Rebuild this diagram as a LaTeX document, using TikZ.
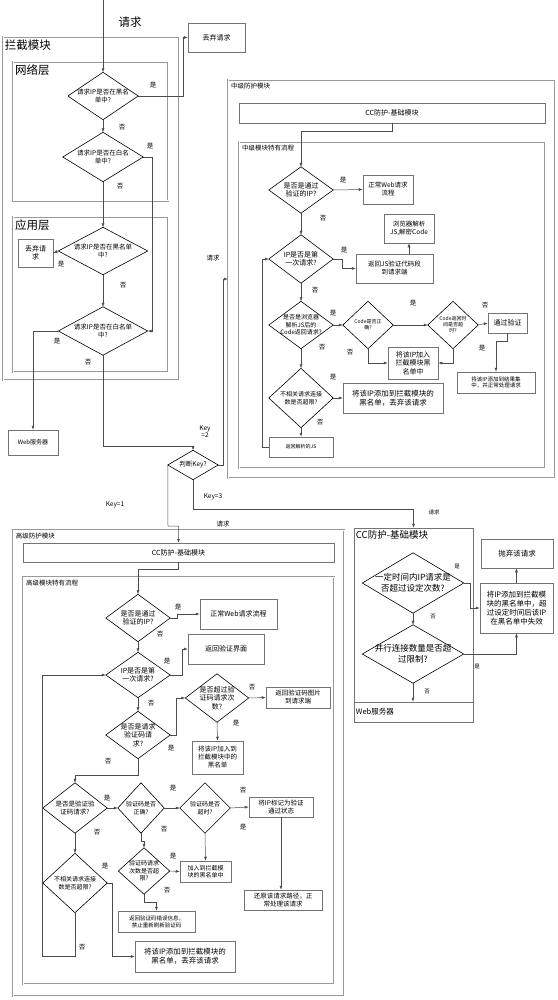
\documentclass[tikz,border=0pt]{standalone}
\usepackage{fontspec}
\setmainfont{Noto Sans CJK SC}
\usetikzlibrary{arrows.meta}
\newcommand\rbox[7]{\node[bx,#6,minimum width={#4-#2},minimum height={#5-#3}] (#1) at ({(#2+#4)/2},{(#3+#5)/2}) {#7};}
\newcommand\dnode[7]{\node[dtx,#6,minimum width=#4,minimum height=#5] (#1) at (#2,#3) {#7};
  \draw[dln] (#1.north)--(#1.east)--(#1.south)--(#1.west)--cycle;}
\tikzset{
  bx/.style={draw=black!55, inner sep=0pt, align=center, line width=0.5pt},
  modb/.style={draw=black!40, double=white, double distance=1pt, inner sep=0pt, line width=0.4pt},
  dtx/.style={inner sep=0pt, align=center},
  dln/.style={draw=black, line width=0.6pt},
  con/.style={draw=black!70, line width=0.5pt, -{Latex[length=4pt,width=3pt]}},
  lab/.style={inner sep=0pt, font=\fontsize{6.5}{7}\selectfont},
  f5/.style={font=\fontsize{5}{6}\selectfont},
  f55/.style={font=\fontsize{5.5}{6.8}\selectfont},
  f6/.style={font=\fontsize{6}{7.5}\selectfont},
  f65/.style={font=\fontsize{6.5}{8}\selectfont},
  f7/.style={font=\fontsize{7}{8.5}\selectfont},
  f75/.style={font=\fontsize{7.5}{9}\selectfont},
  f85/.style={font=\fontsize{8.5}{10.5}\selectfont},
  fbig/.style={font=\fontsize{11.5}{13}\selectfont},
  ttl/.style={anchor=north west, inner sep=0pt},
}
\begin{document}
\begin{tikzpicture}[x=1pt,y=-1pt]
\useasboundingbox (0,0) rectangle (557,1000);
% ================= 拦截模块 =================
\rbox{mod1}{3}{37}{179}{380}{modb}{}
\node[ttl,fbig] (t1) at ([shift={(2pt,-3pt)}]mod1.north west) {拦截模块};
\rbox{net}{13}{62}{168}{201}{modb}{}
\node[ttl,fbig] (t2) at ([shift={(2pt,-3pt)}]net.north west) {网络层};
\rbox{app}{13}{217}{168}{372}{modb}{}
\node[ttl,fbig] (t3) at ([shift={(2pt,-3pt)}]app.north west) {应用层};
\coordinate (top) at (103,0);
\node[fbig] (req) at (130,22) {请求};
\rbox{drop1}{188}{23}{245}{52}{f7}{丢弃请求}
\dnode{d1}{103}{96}{70}{47}{f65}{请求IP是否在黑名\\单中?}
\dnode{d2}{103}{157}{80}{49}{f65}{请求IP是否在白名\\单中?}
\dnode{d3}{103}{251}{89}{47}{f65}{请求IP是否在黑名单\\中?}
\dnode{d4}{103}{331}{89}{48}{f65}{请求IP是否在白名单\\中?}
\rbox{drop2}{18}{239}{53}{267}{f7}{丢弃请\\求}
\rbox{web1}{8}{430}{58}{455}{f6}{Web服务器}
\draw[con] (top) -- (d1.north);
\draw[con] (d1.east) -- (183,96) |- (drop1.west);
\draw[con] (d1.south) -- (d2.north);
\draw[con] (d2.south) -- (d3.north);
\draw[con] (d2.east) -- (152,157) |- (d4.east);
\draw[con] (d3.west) -- (drop2.east);
\draw[con] (d3.south) -- (d4.north);
\draw[con] (d4.west) -| (web1.north);
\node[lab] (l1) at (153,85) {是};
\node[lab] (l2) at (122,127) {否};
\node[lab] (l3) at (150,146) {是};
\node[lab] (l4) at (120,186) {否};
\node[lab] (l5) at (61,264) {是};
\node[lab] (l6) at (123,285) {否};
\node[lab] (l7) at (57,341) {是};
\node[lab] (l8) at (88,362) {否};
% ================= 判断Key =================
\dnode{key}{193}{465}{50}{29}{f65}{判断Key?}
\draw[con] (d4.south) -- (103,446) -| (key.north);
\node[lab,align=center] (k2) at (205,432) {Key\\=2};
\node[lab] (k1) at (115,505) {Key=1};
\node[lab] (k3) at (213,497) {Key=3};
% ================= 中级防护模块 =================
\rbox{midmod}{228}{80}{555}{478}{modb}{}
\node[ttl,f65] (t4) at ([shift={(3pt,-3pt)}]midmod.north west) {中级防护模块};
\rbox{ccM}{239}{103}{545}{123}{f7}{CC防护-基础模块}
\rbox{midflow}{239}{142}{545}{468}{modb}{}
\node[ttl,f65] (t5) at ([shift={(3pt,-3pt)}]midflow.north west) {中级模块特有流程};
\draw[con] (key.east) -- ++(5,0) |- (midmod.west);
\node[lab] (rq1) at (213,258) {请求};
\dnode{M1}{301}{190}{64}{46}{f7}{是否是通过\\验证的IP?}
\dnode{M2}{301}{259}{64}{48}{f7}{IP是否是第\\一次请求?}
\dnode{M3}{301}{325}{64}{47}{f6}{是否是浏览器\\解析JS后的\\Code返回请求?}
\dnode{M4}{368}{325}{50}{47}{f5}{Code是否正\\确?}
\dnode{M5}{453}{325}{50}{47}{f5}{Code返回时\\间是否超\\时?}
\dnode{M6}{301}{398}{64}{59}{f6}{不相关请求连接\\数是否超限?}
\rbox{web2}{363}{175}{413}{204}{f65}{正常Web请求\\流程}
\rbox{js1}{356}{254}{433}{283}{f65}{返回JS验证代码段\\到请求端}
\rbox{js2}{384}{214}{434}{243}{f65}{浏览器解析\\JS,解密Code}
\rbox{pass}{488}{313}{527}{333}{f7}{通过验证}
\rbox{blk1}{388}{347}{438}{379}{f7}{将该IP加入\\拦截模块黑\\名单中}
\rbox{trust}{457}{372}{535}{393}{f55}{将该IP添加到结果集\\中，并正常处理请求}
\rbox{blk2}{343}{383}{443}{413}{f75}{将该IP添加到拦截模块的\\黑名单，丢弃该请求}
\rbox{jsr}{269}{437}{333}{457}{f5}{返回解析的JS}
\draw[con] (ccM.south) -- ++(0,8) -| (M1.north);
\draw[con] (M1.east) -- (web2.west);
\draw[con] (M1.south) -- (M2.north);
\draw[con] (M2.east) -- ++(9,0) |- (js1.west);
\draw[con] (js2.south |- js1.north) -- (js2.south);
\draw[con] (M2.south) -- (M3.north);
\draw[con] (M3.east) -- (M4.west);
\draw[con] (M4.east) -- (M5.west);
\draw[con] (M5.east) -- (pass.west);
\draw[con] (M4.south) |- (blk1.west);
\draw[con] (M5.south) |- (blk1.east);
\draw[con] (pass.south) -- ++(0,8) -| (trust.north);
\draw[con] (M3.south) -- (M6.north);
\draw[con] (M6.east) -- (blk2.west);
\draw[con] (M6.south) -- (jsr.north);
\draw[con] (jsr.west) -- ++(-7,0) |- (M2.west);
\node[lab] (m1) at (343,180) {是};
\node[lab] (m2) at (323,218) {否};
\node[lab] (m3) at (344,250) {是};
\node[lab] (m4) at (315,290) {否};
\node[lab] (m5) at (333,313) {是};
\node[lab] (m6) at (413,303) {是};
\node[lab] (m7) at (485,305) {否};
\node[lab] (m8) at (350,352) {否};
\node[lab] (m9) at (482,348) {是};
\node[lab] (m10) at (322,347) {否};
\node[lab] (m11) at (333,377) {是};
\node[lab] (m12) at (320,422) {否};
% ================= 高级防护模块 =================
\rbox{advmod}{13}{530}{344}{996}{modb}{}
\node[ttl,f65] (t6) at ([shift={(3pt,-3pt)}]advmod.north west) {高级防护模块};
\rbox{ccA}{23}{543}{334}{562}{f7}{CC防护-基础模块}
\rbox{advflow}{23}{577}{334}{984}{modb}{}
\node[ttl,f65] (t7) at ([shift={(3pt,-3pt)}]advflow.north west) {高级模块特有流程};
\draw[con] (key.west) -- (168,526) -| (ccA.north);
\node[lab] (rq2) at (223,524) {请求};
\dnode{A1}{138}{618}{64}{47}{f7}{是否是通过\\验证的IP?}
\dnode{A2}{138}{675}{64}{45}{f7}{IP是否是第\\一次请求?}
\dnode{A3}{138}{735}{64}{47}{f7}{是否是请求\\验证码请\\求?}
\dnode{A4}{217}{698}{63}{48}{f7}{是否超过验\\证码请求次\\数?}
\dnode{A5}{75}{808}{64}{50}{f65}{是否是验证验\\证码请求?}
\dnode{A7}{141}{808}{46}{50}{f6}{验证码是否\\正确?}
\dnode{A8}{205}{808}{50}{50}{f6}{验证码是否\\超时?}
\dnode{A9}{144}{871}{51}{46}{f6}{验证码请求\\次数是否超\\限?}
\dnode{A6}{75}{883}{64}{59}{f6}{不相关请求连接\\数是否超限?}
\rbox{web3}{200}{599}{277}{629}{f7}{正常Web请求流程}
\rbox{vui}{188}{634}{264}{664}{f7}{返回验证界面}
\rbox{img}{266}{687}{330}{708}{f65}{返回验证码图片\\到请求端}
\rbox{blk3}{192}{741}{243}{774}{f65}{将该IP加入到\\拦截模块中的\\黑名单}
\rbox{mark}{249}{797}{313}{817}{f65}{将IP标记为验证\\通过状态}
\rbox{blk4}{180}{861}{231}{882}{f6}{加入到拦截模\\块的黑名单中}
\rbox{restore}{244}{890}{322}{910}{f65}{还原该请求路径，正\\常处理该请求}
\rbox{err}{118}{911}{195}{932}{f55}{返回验证码错误信息，\\禁止重新刷新验证码}
\rbox{blk5}{135}{941}{235}{972}{f75}{将该IP添加到拦截模块的\\黑名单，丢弃该请求}
\draw[con] (ccA.south) -- ++(0,7) -| (A1.north);
\draw[con] (A1.east) -- ++(7,0) |- (web3.west);
\draw[con] (A1.south) -- (A2.north);
\draw[con] (A2.east) -- ++(12,0) |- (vui.west);
\draw[con] (A2.south) -- (A3.north);
\draw[con] (A3.east) -- ++(6,0) |- (A4.west);
\draw[con] (A4.east) -- (img.west);
\draw[con] (A4.south) -- (blk3.north);
\draw[con] (A3.south) -- ++(0,17) -| (A5.north);
\draw[con] (A5.east) -- (A7.west);
\draw[con] (A7.east) -- (A8.west);
\draw[con] (A8.east) -- (mark.west);
\draw[con] (A8.south) -- (blk4.north);
\draw[con] (mark.south) -- (mark.south |- restore.north);
\draw[con] (A7.south) -- ++(0,8) -| (A9.north);
\draw[con] (A9.east) -- (blk4.west);
\draw[con] (A9.south) -- ++(0,8) -| (err.north);
\draw[con] (A5.south) -- (A6.north);
\draw[con] (A6.east) -- ++(5,0) |- (blk5.west);
\draw[con] (A6.south) -- ++(0,44) -- ++(-33,0) |- (A2.west);
\node[lab] (a1) at (178,607) {是};
\node[lab] (a2) at (160,634) {否};
\node[lab] (a3) at (167,661) {是};
\node[lab] (a4) at (151,703) {否};
\node[lab] (a5) at (171,748) {是};
\node[lab] (a6) at (252,687) {否};
\node[lab] (a7) at (236,723) {是};
\node[lab] (a8) at (108,761) {否};
\node[lab] (a9) at (107,798) {是};
\node[lab] (a10) at (173,788) {是};
\node[lab] (a11) at (243,790) {否};
\node[lab] (a12) at (243,827) {是};
\node[lab] (a13) at (164,829) {否};
\node[lab] (a14) at (97,832) {否};
\node[lab] (a15) at (173,856) {是};
\node[lab] (a16) at (167,890) {否};
\node[lab] (a17) at (105,866) {是};
\node[lab] (a18) at (82,947) {否};
% ================= 右侧 CC防护-基础模块 =================
\rbox{ccR}{354}{528}{473}{722}{bx}{}
\node[ttl,font=\fontsize{9.5}{11}\selectfont] (t8) at ([shift={(2pt,-3pt)}]ccR.north west) {CC防护-基础模块};
\rbox{web4}{354}{702}{473}{722}{bx}{}
\node[anchor=west,inner sep=0pt,f75] (t9) at ([shift={(2pt,0pt)}]web4.west) {Web服务器};
\draw[con] (key.south) -- (193,509) -| (ccR.north);
\node[lab,font=\fontsize{5.5}{6}\selectfont] (rq3) at (434,512) {请求};
\dnode{R1}{413}{583}{101}{60}{f85}{一定时间内IP请求是\\否超过设定次数?}
\dnode{R2}{413}{654}{101}{58}{f85}{并行连接数量是否超\\过限制?}
\rbox{blkR}{480}{583}{553}{633}{f75}{将IP添加到拦截模\\块的黑名单中，超\\过设定时间后该IP\\在黑名单中失效}
\rbox{drop3}{481}{539}{553}{568}{f75}{抛弃该请求}
\draw[con] (R1.east) -- ++(7,0) |- (blkR.west);
\draw[con] (blkR.north) -- (blkR.north |- drop3.south);
\draw[con] (R1.south) -- (R2.north);
\draw[con] (R2.east) -| (blkR.south);
\draw[con] (R2.south) -- (R2.south |- web4.north);
\node[lab,f55] (r1) at (457,567) {是};
\node[lab,f55] (r2) at (433,617) {否};
\node[lab,f55] (r3) at (477,667) {是};
\node[lab,f55] (r4) at (427,692) {否};
\end{tikzpicture}
\end{document}
